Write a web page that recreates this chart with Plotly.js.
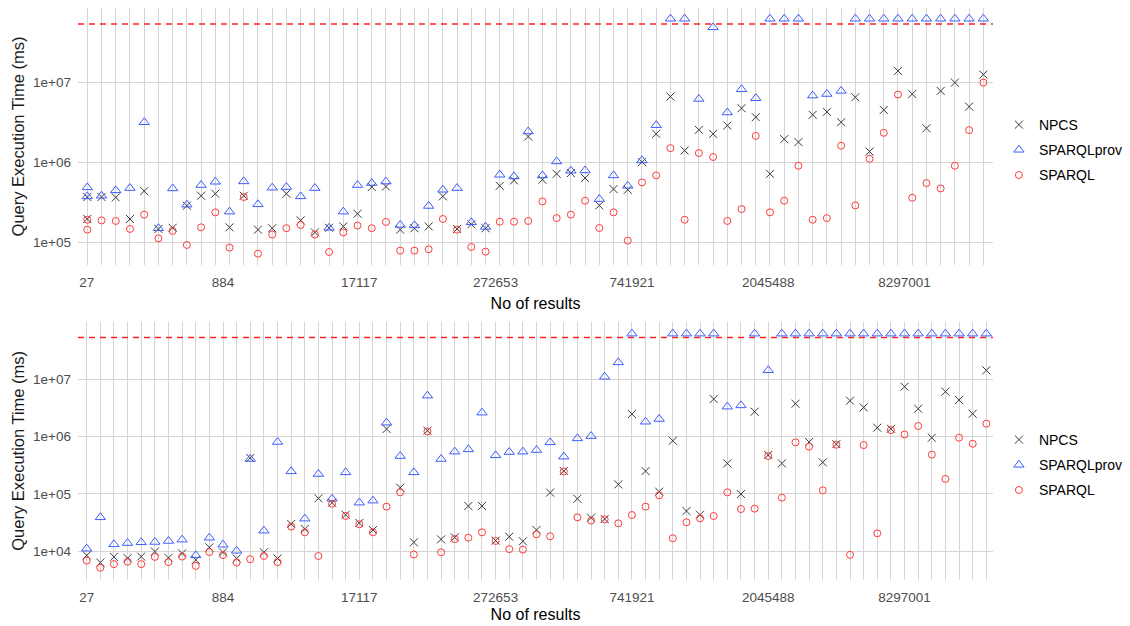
<!DOCTYPE html>
<html>
<head>
<meta charset="utf-8">
<script src="https://cdn.plot.ly/plotly-3.0.1.min.js"></script>
<style>html,body{margin:0;padding:0;background:#fff}#chart{width:1130px;height:626px}</style>
</head>
<body>
<div id="chart"></div>
<script>
// ---------- DATA ----------
var T = 6.3e7;          // plotted position of timed-out queries
var LIMIT = 5.4e7;      // timeout threshold (red dashed line)
var xLabels = ['27', '884', '17117', '272653', '741921', '2045488', '8297001'];
var xLabelPos = [0, 10, 20, 30, 40, 50, 60];
var yTickVals = [1e4, 1e5, 1e6, 1e7];
var yTickText = ['1e+04', '1e+05', '1e+06', '1e+07'];

// top panel: category positions (first result count appears twice)
var topCats = [0,0,1,2,3,4,5,6,7,8,9,10,11,12,13,14,15,16,17,18,19,20,21,22,23,24,25,26,27,28,29,30,31,32,33,34,35,36,37,38,39,40,41,42,43,44,45,46,47,48,49,50,51,52,53,54,55,56,57,58,59,60,61,62,63];
var topNPCS = [3.69e5,1.96e5,3.69e5,3.65e5,1.96e5,4.38e5,1.47e5,1.52e5,2.87e5,3.83e5,4.06e5,1.54e5,3.83e5,1.44e5,1.5e5,4.06e5,1.88e5,1.33e5,1.52e5,1.58e5,2.28e5,4.92e5,
  5.0e5,1.44e5,1.5e5,1.58e5,3.76e5,1.47e5,1.68e5,1.5e5,5.1e5,5.96e5,2.11e6,6.07e5,7.2e5,7.36e5,6.37e5,2.9e5,4.64e5,4.55e5,1.01e6,2.28e6,6.68e6,1.41e6,2.56e6,
  2.28e6,2.9e6,4.78e6,3.69e6,7.2e5,1.96e6,1.8e6,3.95e6,4.3e6,3.19e6,6.56e6,1.37e6,4.55e6,1.4e7,7.2e6,2.68e6,7.87e6,1.0e7,5.01e6,1.26e7];
var topProv = [4.87e5,3.76e5,3.83e5,4.47e5,4.78e5,3.19e6,1.5e5,4.73e5,2.96e5,5.21e5,5.73e5,2.42e5,5.79e5,2.99e5,4.83e5,4.92e5,3.76e5,4.78e5,1.52e5,2.42e5,5.21e5,5.52e5,
  5.76e5,1.65e5,1.63e5,2.85e5,4.55e5,4.78e5,1.78e5,1.56e5,7.01e5,6.68e5,2.44e6,6.88e5,1.03e6,7.87e5,7.94e5,3.48e5,6.88e5,5.1e5,1.06e6,2.93e6,T,T,6.25e6,
  4.92e7,4.22e6,8.25e6,6.37e6,T,T,T,6.88e6,7.2e6,7.87e6,T,T,T,T,T,T,T,T,T,T];
var topSPARQL = [1.92e5,1.44e5,1.88e5,1.85e5,1.47e5,2.22e5,1.12e5,1.39e5,9.26e4,1.54e5,2.37e5,8.58e4,3.69e5,7.2e4,1.25e5,1.5e5,1.65e5,1.25e5,7.57e4,1.33e5,1.62e5,1.5e5,
  1.8e5,7.87e4,7.87e4,8.18e4,1.96e5,1.44e5,8.74e4,7.64e4,1.81e5,1.81e5,1.85e5,3.25e5,2.01e5,2.22e5,3.32e5,1.51e5,2.37e5,1.05e5,5.62e5,6.88e5,1.51e6,1.92e5,1.31e6,
  1.17e6,1.85e5,2.61e5,2.15e6,2.37e5,3.32e5,9.09e5,1.92e5,2.01e5,1.62e6,2.9e5,1.11e6,2.35e6,7.08e6,3.61e5,5.52e5,4.73e5,9.09e5,2.54e6,1.0e7];

// bottom panel: one query per category position 0..66
var botCats = [];
for (var i = 0; i <= 66; i++) botCats.push(i);
var botNPCS = [8.4e3,6.3e3,7.9e3,7.5e3,8.0e3,9.8e3,7.6e3,9.1e3,7.0e3,1.16e4,9.5e3,7.4e3,4.22e5,9.5e3,7.4e3,2.97e4,2.43e4,8.34e4,7.0e4,4.3e4,3.09e4,2.33e4,
  1.36e6,1.28e5,1.42e4,1.27e6,1.6e4,1.73e4,6.12e4,6.12e4,1.52e4,1.78e4,1.48e4,2.33e4,1.05e5,2.5e5,8.2e4,3.83e4,3.63e4,1.46e5,2.48e6,2.5e5,1.09e5,8.47e5,5.0e4,
  4.3e4,4.53e6,3.4e5,9.9e4,2.72e6,4.77e5,3.4e5,3.76e6,8.04e5,3.55e5,7.4e5,4.24e6,3.24e6,1.43e6,1.37e6,7.45e6,3.07e6,9.57e5,6.1e6,4.36e6,2.51e6,1.44e7];
var botProv = [1.1e4,3.88e4,1.31e4,1.38e4,1.42e4,1.44e4,1.5e4,1.58e4,8.4e3,1.71e4,1.29e4,1.01e4,4.06e5,2.27e4,8.04e5,2.47e5,3.68e4,2.22e5,8.2e4,2.37e5,7.0e4,7.6e4,
  1.75e6,4.57e5,2.37e5,5.19e6,4.06e5,5.45e5,5.98e5,2.62e6,4.7e5,5.37e5,5.45e5,5.82e5,7.93e5,4.46e5,9.3e5,1.02e6,1.11e7,1.98e7,T,1.82e6,2.03e6,T,T,
  T,T,3.33e6,3.51e6,T,1.44e7,T,T,T,T,T,T,T,T,T,T,T,T,T,T,T,T];
var botSPARQL = [6.8e3,5.1e3,5.9e3,6.5e3,5.9e3,7.9e3,6.4e3,8.0e3,5.5e3,9.6e3,8.5e3,6.3e3,7.2e3,8.2e3,6.4e3,2.67e4,2.12e4,8.2e3,6.7e4,4.1e4,2.93e4,2.12e4,
  5.96e4,1.06e5,8.7e3,1.23e6,9.5e3,1.62e4,1.71e4,2.12e4,1.5e4,1.08e4,1.06e4,1.96e4,1.81e4,2.47e5,3.88e4,3.4e4,3.58e4,3.05e4,4.26e4,5.96e4,9.4e4,1.67e4,3.18e4,
  3.72e4,4.1e4,1.06e5,5.42e4,5.5e4,4.57e5,8.55e4,7.93e5,6.67e5,1.15e5,7.2e5,8.6e3,7.1e5,2.04e4,1.3e6,1.09e6,1.53e6,4.83e5,1.82e5,9.57e5,7.5e5,1.68e6];

// ---------- STYLE ----------
var topRange = [-0.654, 63.68];
var botRange = [-0.638, 66.49];
var FONT = 'Liberation Sans, Arial, sans-serif';
var GRID = '#d5d5d5';
var sNPCS = {symbol: 'x-thin-open', size: 8, color: '#3a3a3a', line: {width: 1, color: '#3a3a3a'}};
var sProv = {symbol: 'triangle-up-open', size: 9, color: '#3b5cff', line: {width: 1, color: '#3b5cff'}};
var sSPARQL = {symbol: 'circle-open', size: 7, color: '#ff3b3b', line: {width: 1, color: '#ff3b3b'}};

function ints(n) { var a = []; for (var k = 0; k <= n; k++) a.push(k); return a; }
function sparseText(n) {
  var a = [];
  for (var k = 0; k <= n; k++) { var j = xLabelPos.indexOf(k); a.push(j >= 0 ? xLabels[j] : ''); }
  return a;
}

function pts(name, x, y, marker, xa, ya, legend) {
  return {type: 'scatter', mode: 'markers', name: name, legendgroup: name + legend, x: x, y: y, marker: marker,
    xaxis: xa, yaxis: ya, legend: legend, cliponaxis: false, hoverinfo: 'x+y'};
}
function limitLine(xa, ya, rng) {
  return {type: 'scatter', mode: 'lines', x: rng, y: [LIMIT, LIMIT], xaxis: xa, yaxis: ya,
    line: {color: '#ff2020', width: 1.5, dash: '6px,5px'}, showlegend: false, hoverinfo: 'skip'};
}

var data = [
  limitLine('x3', 'y', botRange),
  pts('NPCS', topCats, topNPCS, sNPCS, 'x', 'y', 'legend'),
  pts('SPARQLprov', topCats, topProv, sProv, 'x', 'y', 'legend'),
  pts('SPARQL', topCats, topSPARQL, sSPARQL, 'x', 'y', 'legend'),
  limitLine('x2', 'y2', botRange),
  pts('NPCS', botCats, botNPCS, sNPCS, 'x2', 'y2', 'legend2'),
  pts('SPARQLprov', botCats, botProv, sProv, 'x2', 'y2', 'legend2'),
  pts('SPARQL', botCats, botSPARQL, sSPARQL, 'x2', 'y2', 'legend2')
];

var tickFont = {family: FONT, size: 13.5, color: '#4d4d4d'};
var titleFont = {family: FONT, size: 16.5, color: '#1a1a1a'};
function yAxis(dom, rng) {
  return {domain: dom, type: 'log', range: rng, tickvals: yTickVals, ticktext: yTickText,
    showgrid: true, gridcolor: GRID, gridwidth: 1, zeroline: false, showline: false, ticks: '',
    ticklabelstandoff: 6, tickfont: tickFont, automargin: false,
    title: {text: 'Query Execution Time (ms)', font: titleFont, standoff: 4}};
}
function legendCfg(yTop) {
  return {xref: 'container', yref: 'container', x: 0.884, y: 1 - yTop / 626, xanchor: 'left', yanchor: 'top',
    font: {family: FONT, size: 14, color: '#000'}, bgcolor: 'rgba(0,0,0,0)', itemsizing: 'trace',
    traceorder: 'grouped', tracegroupgap: 4};
}

var layout = {
  width: 1130, height: 626,
  margin: {l: 78, r: 137, t: 0, b: 0},
  paper_bgcolor: '#fff', plot_bgcolor: '#fff',
  font: {family: FONT},
  showlegend: true,
  xaxis: {domain: [0, 1], anchor: 'y', range: topRange, tickvals: ints(63), showticklabels: false,
    showgrid: true, gridcolor: GRID, gridwidth: 1, zeroline: false, showline: false, ticks: '', automargin: false},
  xaxis3: {overlaying: 'x', anchor: 'y', side: 'bottom', range: botRange, tickvals: xLabelPos, ticktext: xLabels,
    showgrid: false, zeroline: false, showline: false, ticks: '', ticklabelstandoff: 8, tickfont: tickFont, automargin: false,
    title: {text: 'No of results', font: {family: FONT, size: 16, color: '#000'}, standoff: 8}},
  yaxis: yAxis([0.5767, 0.9872], [4.716, 7.934]),
  xaxis2: {domain: [0, 1], anchor: 'y2', range: botRange, tickvals: ints(66), ticktext: sparseText(66),
    showgrid: true, gridcolor: GRID, gridwidth: 1, zeroline: false, showline: false, ticks: '',
    ticklabelstandoff: 8, tickfont: tickFont, automargin: false,
    title: {text: 'No of results', font: {family: FONT, size: 16, color: '#000'}, standoff: 4}},
  yaxis2: yAxis([0.0735, 0.4861], [3.494, 8.008]),
  legend: legendCfg(109),
  legend2: legendCfg(424)
};

Plotly.newPlot('chart', data, layout, {displayModeBar: false, staticPlot: true});
</script>
</body>
</html>
